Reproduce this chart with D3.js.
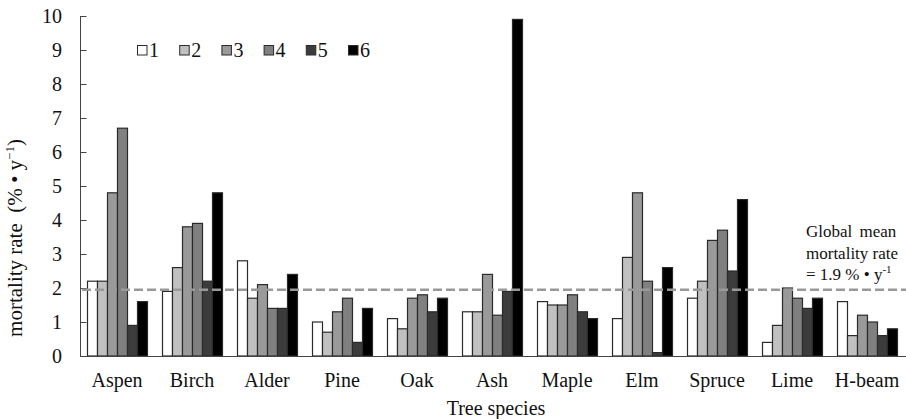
<!DOCTYPE html>
<html><head><meta charset="utf-8">
<script src="https://cdn.jsdelivr.net/npm/d3@7"></script>
</head>
<body style="margin:0;background:#fff"><svg id="chart" width="906" height="419" style="display:block"></svg>
<script>
const categories = ["Aspen","Birch","Alder","Pine","Oak","Ash","Maple","Elm","Spruce","Lime","H-beam"];
const seriesNames = ["1","2","3","4","5","6"];
const s1 = [2.2,1.9,2.8,1.0,1.1,1.3,1.6,1.1,1.7,0.4,1.6];
const s2 = [2.2,2.6,1.7,0.7,0.8,1.3,1.5,2.9,2.2,0.9,0.6];
const s3 = [4.8,3.8,2.1,1.3,1.7,2.4,1.5,4.8,3.4,2.0,1.2];
const s4 = [6.7,3.9,1.4,1.7,1.8,1.2,1.8,2.2,3.7,1.7,1.0];
const s5 = [0.9,2.2,1.4,0.4,1.3,1.9,1.3,0.1,2.5,1.4,0.6];
const s6 = [1.6,4.8,2.4,1.4,1.7,9.9,1.1,2.6,4.6,1.7,0.8];
const yTicks = [0,1,2,3,4,5,6,7,8,9,10];
const globalMean = 1.95;
const colors = ["#ffffff","#c0c0c0","#9a9a9a","#808080","#3c3c3c","#000000"];

const FONT = "Liberation Serif";
const series = [s1,s2,s3,s4,s5,s6];
const svg = d3.select("#chart");
const mL = 80, mR = 905, mT = 16, mB = 356;

const x0 = d3.scaleBand().domain(categories).range([79.5, 904.5]).paddingInner(0.2).paddingOuter(0.1);
const x1 = d3.scaleBand().domain(seriesNames).range([0, x0.bandwidth()]);
const y = d3.scaleLinear().domain([0,10]).range([mB, mT]);

// y axis
const yAxis = svg.append("g").attr("transform",`translate(${mL},0)`)
  .call(d3.axisLeft(y).tickValues(yTicks).tickSizeInner(-6).tickSizeOuter(0).tickPadding(18));
yAxis.attr("font-family", FONT);
yAxis.select(".domain").attr("stroke","#444").attr("d",`M0.5,${mB}V${mT}`);
yAxis.selectAll(".tick line").attr("stroke","#444").attr("transform","translate(0.5,0)");
yAxis.selectAll("text").style("font-family",FONT).style("font-size","20px").attr("fill","#111");

// bars
const groups = svg.append("g").selectAll("g").data(categories).join("g")
  .attr("transform", d => `translate(${x0(d)},0)`);
groups.selectAll("rect").data((c,i) => series.map((s,j) => ({name: seriesNames[j], v: s[i], j})))
  .join("rect")
  .attr("x", d => x1(d.name)+0.5)
  .attr("y", d => y(d.v))
  .attr("width", x1.bandwidth())
  .attr("height", d => mB - y(d.v))
  .attr("fill", d => colors[d.j])
  .attr("stroke","#2a2a2a").attr("stroke-width",1.2);

// x axis
const xAxis = svg.append("g").attr("transform",`translate(0,${mB})`)
  .call(d3.axisBottom(x0).tickSize(0).tickPadding(17));
xAxis.attr("font-family", FONT);
xAxis.select(".domain").attr("stroke","#444").attr("d",`M${mL},0.5H906`);
xAxis.selectAll("text").style("font-family",FONT).style("font-size","20px").attr("fill","#111");

// mean line
svg.append("line").attr("x1",mL+2).attr("x2",906).attr("y1",y(globalMean)).attr("y2",y(globalMean))
  .attr("stroke","#999").attr("stroke-width",2.5).attr("stroke-dasharray","9,4");

// annotation
const ann = svg.append("text").style("font-family",FONT).style("font-size","17px").attr("fill","#111");
ann.append("tspan").attr("x",806).attr("y",237).attr("word-spacing",3).text("Global mean");
ann.append("tspan").attr("x",806).attr("y",258.5).text("mortality rate");
ann.append("tspan").attr("x",806).attr("y",280).text("= 1.9 % \u2022 y");
ann.append("tspan").style("font-size","11px").attr("dy",-7).text("-1");

// legend
const legend = svg.append("g");
seriesNames.forEach((n,i) => {
  const lx = 137 + i*42.2;
  legend.append("rect").attr("x",lx+0.5).attr("y",45.5).attr("width",9.5).attr("height",9.5)
    .attr("fill",colors[i]).attr("stroke","#2a2a2a").attr("stroke-width",1);
  legend.append("text").attr("x",lx+12).attr("y",57).style("font-family",FONT).style("font-size","20px")
    .attr("fill","#111").text(n);
});

// axis titles
svg.append("text").attr("x",496).attr("y",415).attr("text-anchor","middle")
  .style("font-family",FONT).style("font-size","20px").attr("fill","#111").text("Tree species");
const yl = svg.append("text").attr("transform",`translate(22,238) rotate(-90)`)
  .attr("text-anchor","middle").style("font-family",FONT).style("font-size","21px").attr("fill","#111");
yl.append("tspan").text("mortality rate\u00a0\u00a0(% \u2022 y");
yl.append("tspan").style("font-size","13px").attr("dy",-8).text("\u22121");
yl.append("tspan").attr("dy",8).text(")");
</script></body></html>
